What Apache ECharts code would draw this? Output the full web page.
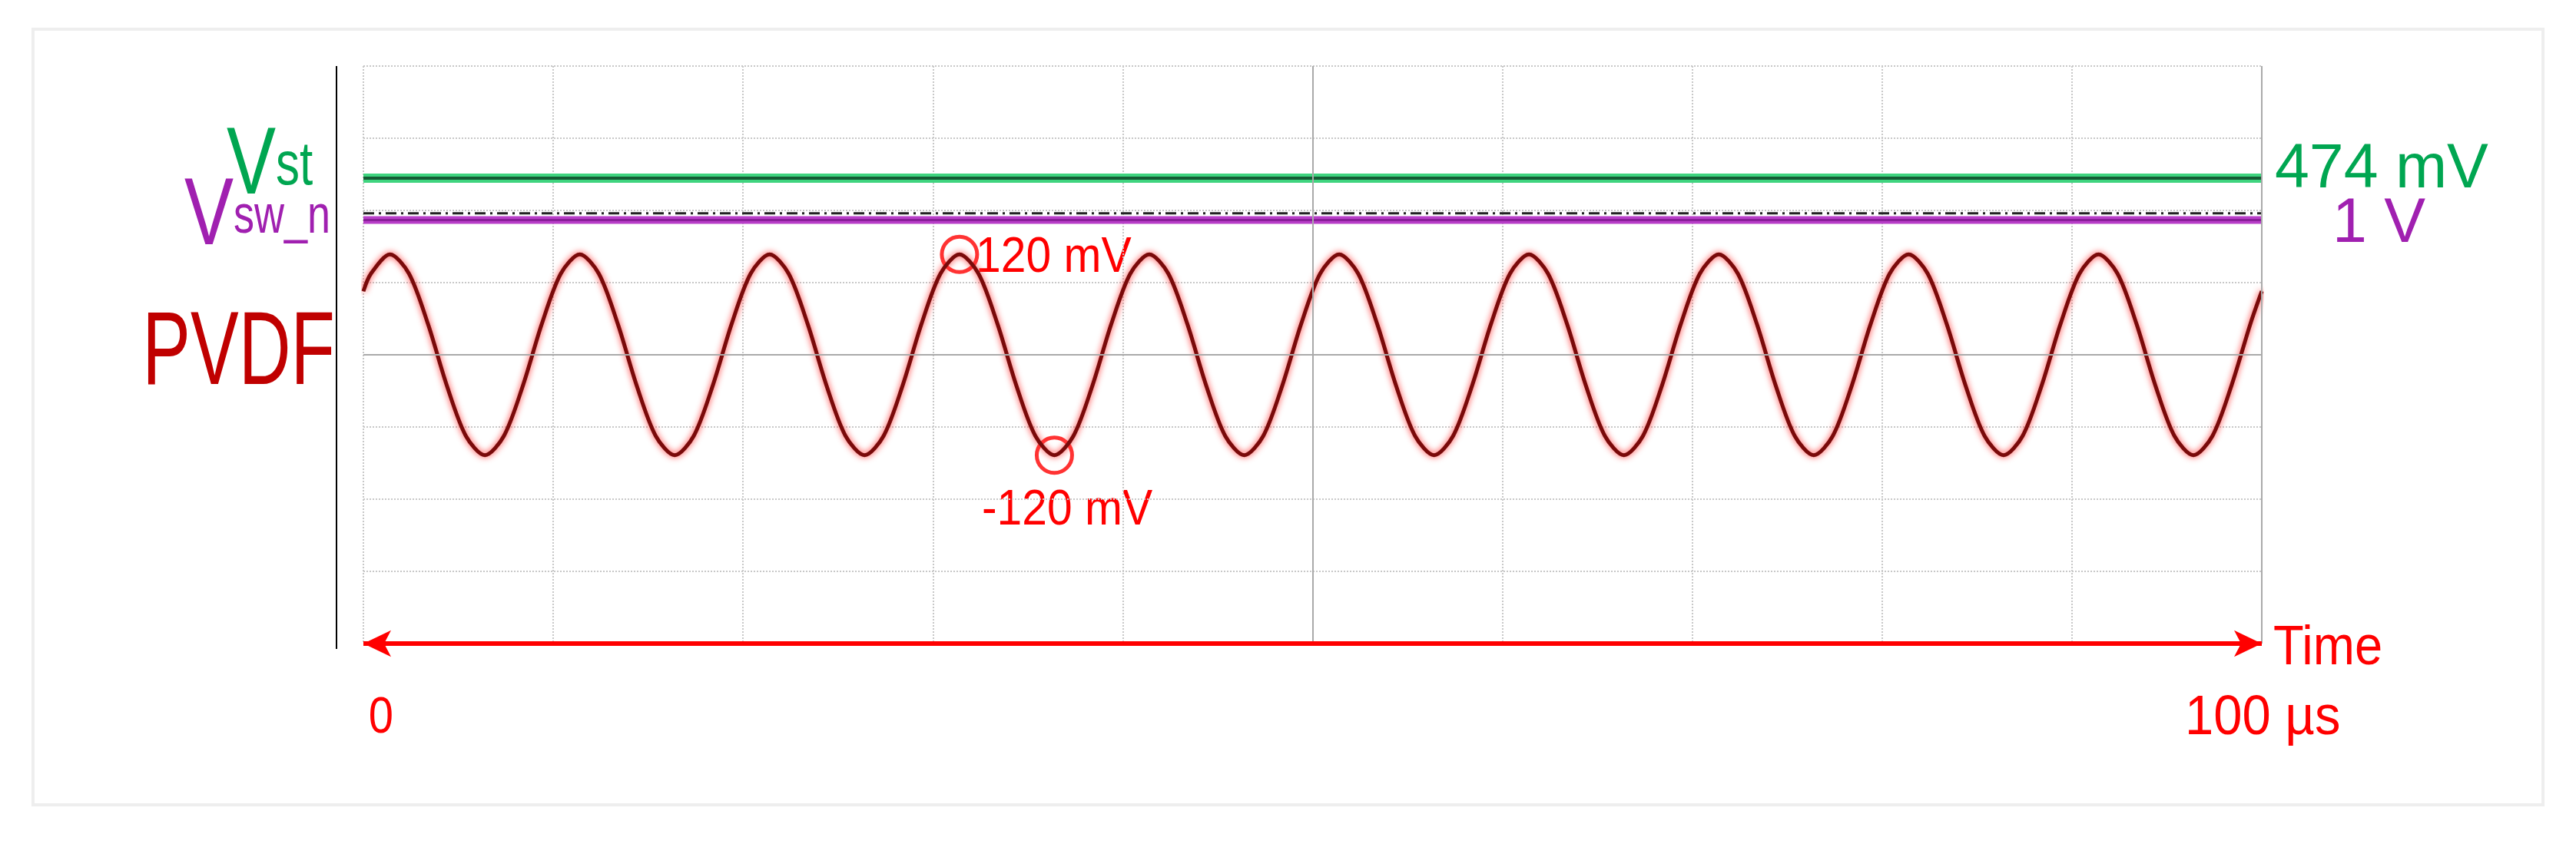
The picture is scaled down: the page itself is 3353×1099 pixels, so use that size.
<!DOCTYPE html>
<html><head><meta charset="utf-8">
<script src="https://cdn.jsdelivr.net/npm/echarts@6/dist/echarts.min.js"></script>
<style>html,body{margin:0;padding:0;background:#fff}#c{width:3353px;height:1099px}</style>
</head><body><div id="c"></div>
<script>
// time in µs, screen-scale mV (1 div ≈ 86.25)
const pvdfTimes = [0,0.4,1.4,2.4,3.4,4.4,5.4,6.4,7.4,8.4,9.4,10.4,11.4,12.4,13.4,14.4,15.4,16.4,17.4,18.4,19.4,20.4,21.4,22.4,23.4,24.4,25.4,26.4,27.4,28.4,29.4,30.4,31.4,32.4,33.4,34.4,35.4,36.4,37.4,38.4,39.4,40.4,41.4,42.4,43.4,44.4,45.4,46.4,47.4,48.4,49.4,50.4,51.4,52.4,53.4,54.4,55.4,56.4,57.4,58.4,59.4,60.4,61.4,62.4,63.4,64.4,65.4,66.4,67.4,68.4,69.4,70.4,71.4,72.4,73.4,74.4,75.4,76.4,77.4,78.4,79.4,80.4,81.4,82.4,83.4,84.4,85.4,86.4,87.4,88.4,89.4,90.4,91.4,92.4,93.4,94.4,95.4,96.4,97.4,98.4,99.4,100];
const pvdfValues = [76,
 97,120,97,37,-37,-97,-120,-97,-37,37,
 97,120,97,37,-37,-97,-120,-97,-37,37,
 97,120,97,37,-37,-97,-120,-97,-37,37,
 97,120,97,37,-37,-97,-120,-97,-37,37,
 97,120,97,37,-37,-97,-120,-97,-37,37,
 97,120,97,37,-37,-97,-120,-97,-37,37,
 97,120,97,37,-37,-97,-120,-97,-37,37,
 97,120,97,37,-37,-97,-120,-97,-37,37,
 97,120,97,37,-37,-97,-120,-97,-37,37,
 97,120,97,37,-37,-97,-120,-97,-37,37,
 76];
const vstLevel = 211;
const vswLevel = 161;
const vswRefLevel = 169;
const peakPoints = [[31.4,120],[36.4,-120]];
const xTicks = {min:0,max:100,interval:10};
const yTicks = {min:-345,max:345,interval:86.25};

const chart = echarts.init(document.getElementById('c'));
const F = 'Liberation Sans, Arial, sans-serif';
const txt = (x,y,text,size,color,align,sy,sx)=>({type:'text',x,y,scaleY:sy||1.15,scaleX:sx||1,style:{text,font:size+'px '+F,fill:color,align:align||'left',verticalAlign:'middle'}});
chart.setOption({
  animation:false,
  backgroundColor:'#fff',
  grid:{left:473,right:3353-2944,top:86,bottom:1099-838},
  xAxis:{type:'value',min:xTicks.min,max:xTicks.max,interval:xTicks.interval,
    axisLine:{show:false},axisTick:{show:false},axisLabel:{show:false},
    splitLine:{lineStyle:{color:'#c8c8c8',type:'dotted',width:2}}},
  yAxis:{type:'value',min:yTicks.min,max:yTicks.max,interval:yTicks.interval,
    axisLine:{show:false},axisTick:{show:false},axisLabel:{show:false},
    splitLine:{lineStyle:{color:'#c8c8c8',type:'dotted',width:2}}},
  series:[
    {type:'line',silent:true,symbol:'none',data:[],
     markLine:{silent:true,symbol:'none',label:{show:false},lineStyle:{color:'#aaa',type:'solid',width:2},
       data:[{xAxis:50},{yAxis:0},{xAxis:100}]}},
    {type:'line',symbol:'none',data:[[0,vstLevel],[100,vstLevel]],
     lineStyle:{color:'#3fd47f',width:12}},
    {type:'line',symbol:'none',data:[[0,vstLevel],[100,vstLevel]],
     lineStyle:{color:'#145c34',width:4}},
    {type:'line',symbol:'none',data:[[0,vswRefLevel],[100,vswRefLevel]],
     lineStyle:{color:'#222',width:3,type:[14,6,3,6]}},
    {type:'line',symbol:'none',data:[[0,vswLevel],[100,vswLevel]],
     lineStyle:{color:'#b83ec8',width:10}},
    {type:'line',symbol:'none',data:[[0,vswLevel],[100,vswLevel]],
     lineStyle:{color:'#8a1e9a',width:3}},
    {type:'line',symbol:'none',smooth:0.3,data:pvdfTimes.map((t,i)=>[t,pvdfValues[i]]),
     lineStyle:{color:'#7a0a0a',width:5,shadowColor:'#ff3030',shadowBlur:8}},
    {type:'scatter',symbol:'circle',symbolSize:46,data:peakPoints,
     itemStyle:{color:'rgba(0,0,0,0)',borderColor:'#f00',borderWidth:5},
     markLine:{silent:true,symbol:['arrow','arrow'],symbolSize:[26,36],label:{show:false},
       lineStyle:{color:'#f00',width:6,type:'solid'},
       data:[[{coord:[0,-345]},{coord:[100,-345]}]]}}
  ],
  graphic:[
    {type:'rect',shape:{x:43,y:38,width:3267,height:1010},style:{fill:'none',stroke:'#eeeeee',lineWidth:4}},
    {type:'line',shape:{x1:438,y1:86,x2:438,y2:845},style:{stroke:'#000',lineWidth:2}},
    {type:'text',x:295,y:280,scaleY:1.3,style:{text:'{a|V}{b|st}',verticalAlign:'bottom',rich:{a:{font:'96px '+F,fill:'#00a651'},b:{font:'62px '+F,fill:'#00a651'}}}},
    {type:'text',x:240,y:346,scaleY:1.3,style:{text:'{a|V}{b|sw_n}',verticalAlign:'bottom',rich:{a:{font:'96px '+F,fill:'#a020b0'},b:{font:'54px '+F,fill:'#a020b0'}}}},
    txt(436,462,'PVDF',94,'#c00000','right',1.45),
    txt(2961,222,'474 mV',72,'#00a651','left',1.12,1.12),
    txt(3036,293,'1 V',72,'#a020b0','left',1.12,1.12),
    txt(1270,336,'120 mV',56,'#f00','left',1.15,1.05),
    txt(1278,665,'-120 mV',56,'#f00','left',1.15,1.05),
    txt(2959,845,'Time',62,'#f00','left',1.15,1.05),
    txt(496,936,'0',58,'#f00','center'),
    txt(2844,936,'100 µs',62,'#f00','left',1.15,1.08)
  ]
});
</script></body></html>
